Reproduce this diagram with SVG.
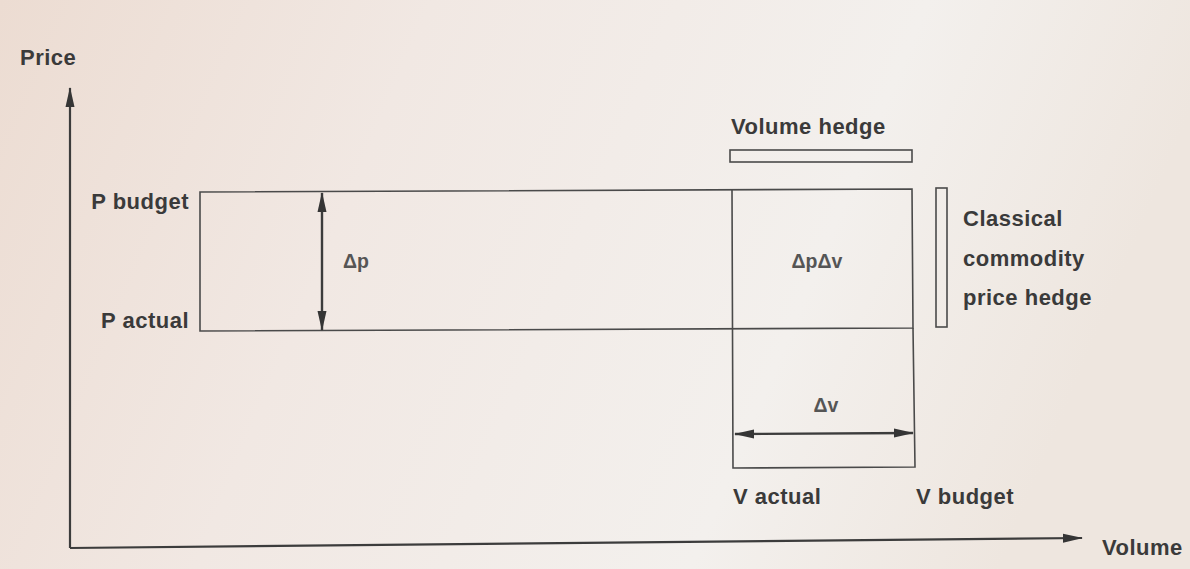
<svg xmlns="http://www.w3.org/2000/svg" width="1190" height="569" viewBox="0 0 1190 569">
<defs>
<linearGradient id="bg" x1="0" y1="0" x2="1" y2="0.2">
<stop offset="0" stop-color="#ecdcd2"/>
<stop offset="0.35" stop-color="#f1e8e3"/>
<stop offset="0.75" stop-color="#f3f0ed"/>
<stop offset="1" stop-color="#eee6df"/>
</linearGradient>
<marker id="ahs" viewBox="0 0 20 10" refX="19" refY="5" markerWidth="20" markerHeight="10" markerUnits="userSpaceOnUse" orient="auto-start-reverse">
<path d="M0,0.5 L20,5 L0,9.5 Z" fill="#353535"/>
</marker>
</defs>
<style>
.t{font-family:"Liberation Sans",Arial,sans-serif;font-weight:bold;font-size:22px;letter-spacing:0.5px;fill:#3a3a3a}
.d{font-family:"Liberation Sans",Arial,sans-serif;font-weight:bold;font-size:19.5px;fill:#555}
.box{fill:none;stroke:#4a4a4a;stroke-width:1.6}
.ax{fill:none;stroke:#3c3c3c;stroke-width:2.2}
.ar{fill:none;stroke:#3c3c3c;stroke-width:2.4}
</style>
<rect width="1190" height="569" fill="url(#bg)"/>
<g id="axes">
<text class="t" x="20" y="65">Price</text>
<text class="t" x="1102" y="555">Volume</text>
</g>
<g id="price-band">
<path class="box" d="M200,192 L912,189 L913,328 L200,331 Z"/>
<text class="t" x="189" y="209" text-anchor="end">P budget</text>
<text class="t" x="189" y="328" text-anchor="end">P actual</text>
<text class="d" x="343" y="268">Δp</text>
</g>
<g id="volume-column">
<path class="box" d="M732,190 L733,468 L915,467 L913,328"/>
<text class="d" x="817" y="268" text-anchor="middle">ΔpΔv</text>
<text class="d" x="826" y="412" text-anchor="middle">Δv</text>
<text class="t" x="733" y="504">V actual</text>
<text class="t" x="916" y="504">V budget</text>
</g>
<g id="volume-hedge">
<text class="t" x="731" y="134">Volume hedge</text>
<rect class="box" x="730" y="150" width="182" height="12" stroke-width="1.4"/>
</g>
<g id="price-hedge">
<rect class="box" x="936" y="188" width="11" height="139" stroke-width="1.4"/>
<text class="t" x="963" y="226">Classical</text>
<text class="t" x="963" y="266">commodity</text>
<text class="t" x="963" y="305">price hedge</text>
</g>
<g id="connectors">
<path class="ax" d="M70,548 L70,88" marker-end="url(#ahs)"/>
<path class="ax" d="M70,548 L1082,538" marker-end="url(#ahs)"/>
<path class="ar" d="M322,193 L322,330" marker-start="url(#ahs)" marker-end="url(#ahs)"/>
<path class="ar" d="M735,434 L913,433" marker-start="url(#ahs)" marker-end="url(#ahs)"/>
</g>
</svg>
